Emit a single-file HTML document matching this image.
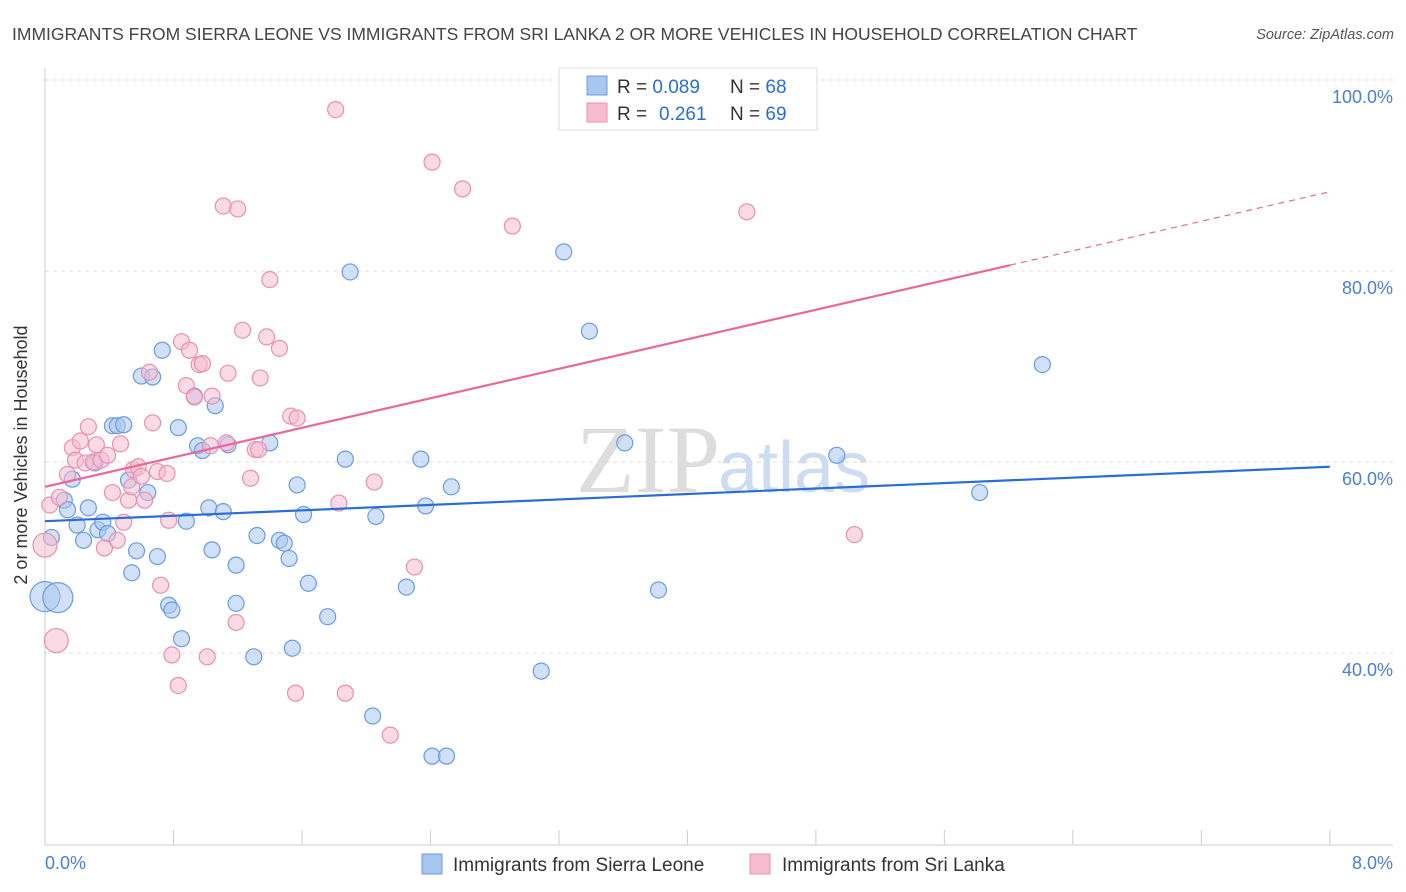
<!DOCTYPE html>
<html><head><meta charset="utf-8"><style>
body{margin:0;background:#fff;font-family:"Liberation Sans",sans-serif;}
svg{display:block}
</style></head><body>
<svg id="chart" width="1406" height="892" xmlns="http://www.w3.org/2000/svg">
<text x="12" y="40" font-size="17.5" fill="#444">IMMIGRANTS FROM SIERRA LEONE VS IMMIGRANTS FROM SRI LANKA 2 OR MORE VEHICLES IN HOUSEHOLD CORRELATION CHART</text>
<text x="1394" y="39" font-size="14.5" fill="#555" font-style="italic" text-anchor="end">Source: ZipAtlas.com</text>
<g id="grid"></g>
<g id="axes"></g>
<text x="720" y="492" font-size="96" fill="#ddd" font-family="Liberation Serif,serif" text-anchor="end">ZIP</text>
<text x="718" y="492" font-size="72" fill="#cddcf0" text-anchor="start">atlas</text>
<g id="pts"></g>
<g id="trends"></g>
<text x="27" y="455" font-size="18" fill="#333" text-anchor="middle" transform="rotate(-90 27 455)">2 or more Vehicles in Household</text>
<text x="45" y="869" font-size="18" fill="#4a7fd4">0.0%</text>
<text x="1393" y="869" font-size="18" fill="#4a7fd4" text-anchor="end">8.0%</text>
<g>
<rect x="559" y="68" width="258" height="62" fill="#fff" stroke="#ddd"/>
<rect x="587" y="76" width="20" height="19" fill="#a9c6ef" stroke="#6d9be0"/>
<rect x="587" y="103" width="20" height="19" fill="#f6bcd0" stroke="#e890b0"/>
<text x="617" y="93" font-size="19" fill="#333">R = <tspan fill="#2a6dd6">0.089</tspan><tspan x="730">N = </tspan><tspan fill="#2a6dd6">68</tspan></text>
<text x="617" y="120" font-size="19" fill="#333">R = <tspan x="659" fill="#2a6dd6">0.261</tspan><tspan x="730">N = </tspan><tspan fill="#2a6dd6">69</tspan></text>
</g>
<g>
<rect x="422" y="854" width="20" height="20" fill="#a9c6ef" stroke="#6d9be0"/>
<text x="453" y="871" font-size="19" fill="#333">Immigrants from Sierra Leone</text>
<rect x="750" y="854" width="20" height="20" fill="#f6bcd0" stroke="#e890b0"/>
<text x="782" y="871" font-size="19" fill="#333">Immigrants from Sri Lanka</text>
</g>
</svg>
<script>
const blueX=[0,0.08,0.04,0.12,0.14,0.17,0.20,0.24,0.27,0.31,0.33,0.36,0.39,0.42,0.45,0.49,0.52,0.54,0.57,0.60,0.64,0.67,0.70,0.73,0.77,0.79,0.83,0.85,0.88,0.93,0.95,0.98,1.02,1.04,1.06,1.11,1.14,1.19,1.19,1.30,1.32,1.40,1.46,1.49,1.52,1.54,1.57,1.61,1.64,1.76,1.87,1.90,2.04,2.06,2.25,2.34,2.37,2.41,2.50,2.53,3.09,3.23,3.39,3.61,3.82,4.93,5.82,6.21];
const blueY=[45.9,45.8,52.1,56.0,55.0,58.2,53.4,51.8,55.2,59.9,52.9,53.7,52.5,63.8,63.8,63.9,58.1,48.4,50.7,69.0,56.8,68.9,50.1,71.7,45.0,44.5,63.6,41.5,53.8,66.9,61.7,61.2,55.2,50.8,65.9,54.8,61.8,49.2,45.2,39.6,52.3,62.0,51.8,51.5,49.9,40.5,57.6,54.5,47.3,43.8,60.3,79.9,33.4,54.3,46.9,60.3,55.4,29.2,29.2,57.4,38.1,82.0,73.7,62.0,46.6,60.7,56.8,70.2];
const pinkX=[0,0.07,0.03,0.09,0.14,0.17,0.19,0.22,0.25,0.27,0.30,0.32,0.35,0.37,0.39,0.42,0.45,0.47,0.49,0.52,0.54,0.55,0.58,0.60,0.62,0.65,0.67,0.70,0.72,0.76,0.77,0.79,0.83,0.85,0.88,0.90,0.93,0.96,0.98,1.01,1.03,1.04,1.11,1.13,1.14,1.19,1.20,1.23,1.28,1.31,1.33,1.34,1.38,1.40,1.46,1.53,1.56,1.57,1.81,1.83,1.87,2.05,2.15,2.30,2.41,2.60,2.91,4.37,5.04];
const pinkY=[51.3,41.3,55.5,56.3,58.7,61.5,60.2,62.2,59.9,63.7,60.0,61.8,60.2,51.0,60.7,56.8,51.8,61.9,53.7,56.0,57.4,59.2,59.5,58.5,56.0,69.4,64.1,59.0,47.1,58.8,53.9,39.8,36.6,72.6,68.0,71.7,66.8,70.2,70.3,39.6,61.7,66.9,86.8,62.0,69.3,43.2,86.5,73.8,58.3,61.3,61.3,68.8,73.1,79.1,71.9,64.8,35.8,64.6,96.9,55.7,35.8,57.9,31.4,49.0,91.4,88.6,84.7,86.2,52.4];
const blueTrend=[53.8,59.5];
const pinkTrend=[57.4,88.3];
const pinkSolidEnd=6.01;
const yTicks=[100,80,60,40];
const yTickLabels=["100.0%","80.0%","60.0%","40.0%"];
const xTicks=[0,0.8,1.6,2.4,3.2,4.0,4.8,5.6,6.4,7.2,8.0];

const NS="http://www.w3.org/2000/svg";
const X=v=>45+v*160.6, Y=v=>1035-v*9.55;
function mk(tag,attrs,parent){const e=document.createElementNS(NS,tag);for(const k in attrs)e.setAttribute(k,attrs[k]);parent.appendChild(e);return e;}
const grid=document.getElementById('grid'),axes=document.getElementById('axes'),pts=document.getElementById('pts'),tr=document.getElementById('trends');
yTicks.forEach((t,i)=>{
  const l=mk('line',{x1:45,x2:1393,y1:Y(t),y2:Y(t),stroke:'#ddd','stroke-dasharray':'4 4'},grid);
  
  
  const tx=mk('text',{x:1393,y:Y(t)+23,'font-size':18,fill:'#4a7fd4','text-anchor':'end'},grid);
  tx.textContent=yTickLabels[i];
  
  
});
mk('line',{x1:45,x2:45,y1:68,y2:845,stroke:'#ccc'},axes);
mk('line',{x1:45,x2:1393,y1:845,y2:845,stroke:'#ccc'},axes);
xTicks.forEach(t=>{
  const l=mk('line',{x1:X(t),x2:X(t),y1:830,y2:845,stroke:'#ccc'},axes);
  
  
});
function drawPts(xs,ys,fill,stroke,name){
  xs.forEach((x,i)=>{
    const r=(i<2&&x<0.1)?(name==='blue-point'?15:12):8;
    const c=mk('circle',{cx:X(x),cy:Y(ys[i]),r:r,fill:fill,'fill-opacity':0.55,stroke:stroke,'stroke-width':1.2},pts);
    
    
  });
}
drawPts(blueX,blueY,'#a9c6ef','#6d9be0','blue-point');
drawPts(pinkX,pinkY,'#f6bcd0','#e890b0','pink-point');
const bl=mk('line',{x1:X(0),y1:Y(blueTrend[0]),x2:X(8),y2:Y(blueTrend[1]),stroke:'#2a6dd6','stroke-width':2.2},tr);


const pAt=x=>pinkTrend[0]+(pinkTrend[1]-pinkTrend[0])*x/8;
const pl=mk('line',{x1:X(0),y1:Y(pinkTrend[0]),x2:X(pinkSolidEnd),y2:Y(pAt(pinkSolidEnd)),stroke:'#e8689a','stroke-width':2.2},tr);


const pd=mk('line',{x1:X(pinkSolidEnd),y1:Y(pAt(pinkSolidEnd)),x2:X(8),y2:Y(pinkTrend[1]),stroke:'#e8689a','stroke-width':1.2,'stroke-dasharray':'6 5'},tr);


</script>
</body></html>
